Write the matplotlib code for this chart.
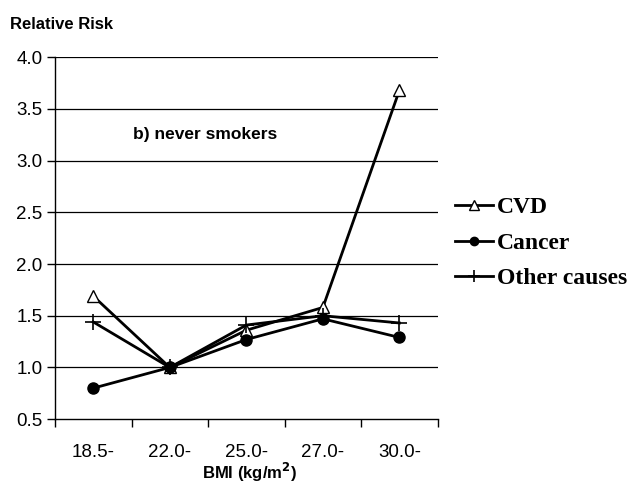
import matplotlib
matplotlib.use("Agg")
import matplotlib.pyplot as plt
from matplotlib.ticker import FixedLocator

bmi_groups = ["18.5-", "22.0-", "25.0-", "27.0-", "30.0-"]
rr_cvd = [1.69, 1.00, 1.36, 1.58, 3.68]
rr_cancer = [0.80, 1.00, 1.27, 1.47, 1.29]
rr_other = [1.44, 1.00, 1.41, 1.50, 1.43]
y_ticks = [0.5, 1.0, 1.5, 2.0, 2.5, 3.0, 3.5, 4.0]

SANS = ["Liberation Sans", "DejaVu Sans"]
SERIF = ["Liberation Serif", "DejaVu Serif"]

fig = plt.figure(figsize=(6.39, 4.88), dpi=100)
ax = fig.add_axes([0.086, 0.141, 0.599, 0.742])
xs = list(range(len(bmi_groups)))

ax.plot(xs, rr_cvd, color="black", lw=2.0, marker="^", ms=9,
        mfc="white", mec="black", mew=1.0, label="CVD", zorder=3)
ax.plot(xs, rr_cancer, color="black", lw=2.0, marker="o", ms=8,
        mfc="black", mec="black", label="Cancer", zorder=4)
ax.plot(xs, rr_other, color="black", lw=2.0, marker="+", ms=11,
        mew=1.2, label="Other causes", zorder=5)

ax.set_xlim(-0.5, len(bmi_groups) - 0.5)
ax.set_ylim(0.5, 4.0)
ax.set_yticks(y_ticks)
ax.set_yticklabels([f"{v:.1f}" for v in y_ticks], fontsize=13.5, family=SANS)
for v in y_ticks[1:]:
    ax.axhline(v, color="black", lw=0.9, zorder=1)

# category labels centred, tick marks on the boundaries
ax.set_xticks(xs)
ax.set_xticklabels(bmi_groups, fontsize=13.5, family=SANS)
ax.tick_params(axis="x", which="major", length=0, pad=18)
ax.xaxis.set_minor_locator(FixedLocator([i - 0.5 for i in range(len(bmi_groups) + 1)]))
ax.tick_params(axis="x", which="minor", length=6, width=1.0, direction="out")
ax.tick_params(axis="y", length=6, width=1.0, direction="out", pad=3)

for s in ("top", "right"):
    ax.spines[s].set_visible(False)
ax.spines["left"].set_linewidth(1.0)
ax.spines["bottom"].set_linewidth(1.0)

ax.text(0.52, 3.25, "b) never smokers", fontsize=12.5, fontweight="bold",
        family=SANS, va="center", ha="left")
fig.text(0.016, 0.949, "Relative Risk", fontsize=12, fontweight="bold",
         family=SANS, va="center", ha="left")
fig.text(0.391, 0.032, "BMI (kg/m$^\\mathbf{2}$)", fontsize=12, fontweight="bold",
         family=SANS, va="center", ha="center")

leg = fig.legend(loc="center left", bbox_to_anchor=(0.712, 0.502), frameon=False,
                 prop={"family": SERIF, "weight": "bold", "size": 17},
                 handlelength=1.6, handletextpad=0.17, labelspacing=0.6,
                 borderaxespad=0, borderpad=0, markerscale=0.75)

fig.savefig("out.png", dpi=100)
